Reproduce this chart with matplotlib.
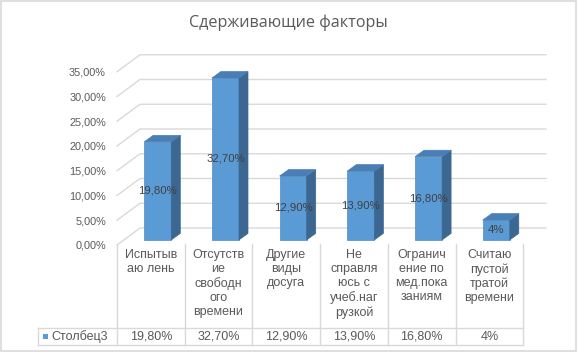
import numpy as np
import matplotlib.pyplot as plt
from matplotlib.patches import Polygon, Rectangle
from matplotlib.transforms import blended_transform_factory


# =========================
# DATA
# =========================

TITLE = "Сдерживающие факторы"
SERIES_NAME = "Столбец3"

categories = [
    "Испытыв\nаю лень",
    "Отсутств\nие\nсвободн\nого\nвремени",
    "Другие\nвиды\nдосуга",
    "Не\nсправля\nюсь с\nучеб.наг\nрузкой",
    "Огранич\nение по\nмед.пока\nзаниям",
    "Считаю\nпустой\nтратой\nвремени",
]
values = [19.8, 32.7, 12.9, 13.9, 16.8, 4.0]
value_labels = ["19,80%", "32,70%", "12,90%", "13,90%", "16,80%", "4%"]
yticks = [0, 5, 10, 15, 20, 25, 30, 35]
ytick_labels = ["0,00%", "5,00%", "10,00%", "15,00%", "20,00%", "25,00%", "30,00%", "35,00%"]


# =========================
# STYLE / GEOMETRY
# =========================

W, H = 578, 356
COL_PX = 67.7      # width of one category in pixels
PCT_PX = 4.95      # pixels per 1 %
X0, X1 = 117, 546  # plot area (front-left .. back-right)
Y0, Y1 = 245, 54   # floor front .. top of back wall

DX = 23 / COL_PX   # depth of floor, x (category units)
DY = 17 / PCT_PX   # depth of floor, y (% units)
FRONT = 0.3        # bar front sits at this share of the depth
BAR_W = 0.4
SDX = 9 / COL_PX   # bar side depth
SDY = 6.5 / PCT_PX

FRONT_C = "#5b9bd5"
SIDE_C = "#3b6791"
TOP_C = "#4a7fb5"
GRID_C = "#d9d9d9"
TEXT_C = "#595959"

plt.rcParams["font.family"] = ["Liberation Sans", "DejaVu Sans"]

fig = plt.figure(figsize=(W / 100, H / 100), dpi=100)
ax = fig.add_axes([X0 / W, (H - Y0) / H, (X1 - X0) / W, (Y0 - Y1) / H])
ax.set_xlim(0, (X1 - X0) / COL_PX)
ax.set_ylim(0, (Y0 - Y1) / PCT_PX)
xmax = ax.get_xlim()[1]

for s in ax.spines.values():
    s.set_visible(False)
ax.set_xticks([])
ax.set_yticks(yticks)
ax.set_yticklabels(ytick_labels, color=TEXT_C, fontsize=7.8)
ax.tick_params(axis="y", length=0, pad=8)

# side wall + back wall gridlines
for v in yticks:
    ax.plot([0, DX, xmax], [v, v + DY, v + DY], color=GRID_C, lw=1.0,
            zorder=1, clip_on=False)

# =========================
# 3D-ish BARS
# =========================

fx, fy = FRONT * DX, FRONT * DY
centers = np.arange(len(values)) + 0.5 + fx
ax.bar(centers, values, width=BAR_W, bottom=fy, color=FRONT_C,
       edgecolor="#4f8bc4", linewidth=0.5, zorder=3)

for c, v, lab in zip(centers, values, value_labels):
    xl, xr = c - BAR_W / 2, c + BAR_W / 2
    top = fy + v
    side = Polygon([(xr, fy), (xr + SDX, fy + SDY), (xr + SDX, top + SDY), (xr, top)],
                   closed=True, facecolor=SIDE_C, edgecolor=SIDE_C, lw=0.5, zorder=3)
    cap = Polygon([(xl, top), (xl + SDX, top + SDY), (xr + SDX, top + SDY), (xr, top)],
                  closed=True, facecolor=TOP_C, edgecolor=TOP_C, lw=0.5, zorder=3)
    ax.add_patch(side)
    ax.add_patch(cap)
    ax.text(c, fy + v / 2, lab, ha="center", va="center", fontsize=8.2,
            color="#404040", zorder=4)

# =========================
# DATA TABLE
# =========================

def fyp(px):
    return 1 - px / H

tr = blended_transform_factory(ax.transData, fig.transFigure)
ftr = fig.transFigure

for i in range(len(values) + 1):
    ax.plot([i, i], [fyp(244), fyp(345)], color=GRID_C, lw=1.0,
            transform=tr, clip_on=False)
for ypx in (328, 345):
    fig.add_artist(plt.Line2D([38 / W, (X0 + 6 * COL_PX) / W], [fyp(ypx), fyp(ypx)],
                              color=GRID_C, lw=1.0, transform=ftr))
fig.add_artist(plt.Line2D([38 / W, 38 / W], [fyp(328), fyp(345)],
                          color=GRID_C, lw=1.0, transform=ftr))

for i, (cat, lab) in enumerate(zip(categories, value_labels)):
    ax.text(i + 0.5, fyp(249), cat, ha="center", va="top", fontsize=9,
            color=TEXT_C, linespacing=1.22, transform=tr, clip_on=False)
    ax.text(i + 0.5, fyp(336.5), lab, ha="center", va="center", fontsize=9,
            color=TEXT_C, transform=tr, clip_on=False)

fig.add_artist(Rectangle((43 / W, fyp(339)), 5 / W, 5 / H, transform=ftr,
                         facecolor=FRONT_C, edgecolor="none"))
fig.text(51 / W, fyp(336.5), SERIES_NAME, ha="left", va="center", fontsize=9,
         color=TEXT_C)

# title + outer border
fig.text(288 / W, fyp(23), TITLE, ha="center", va="center", fontsize=11.6,
         color=TEXT_C, family=["Open Sans", "DejaVu Sans"])
fig.add_artist(Rectangle((0.5 / W, fyp(350.5)), 575 / W, 350 / H, transform=ftr,
                         facecolor="none", edgecolor=GRID_C, lw=1.2))

fig.savefig("out.png", dpi=100)
